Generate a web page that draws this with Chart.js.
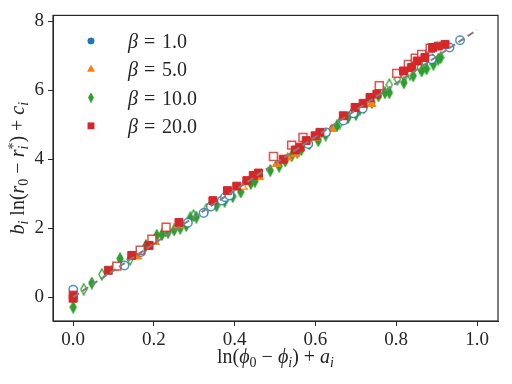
<!DOCTYPE html>
<html>
<head>
<meta charset="utf-8">
<script src="https://cdn.jsdelivr.net/npm/chart.js@4"></script>
<style>
  html, body { margin: 0; padding: 0; background: #fff; }
  canvas { display: block; }
</style>
</head>
<body>
<canvas id="chart" width="512" height="384"></canvas>
<script>
// values
const xTicks = [0.0, 0.2, 0.4, 0.6, 0.8, 1.0];
const yTicks = [0, 2, 4, 6, 8];
const betaLabels = ["1.0", "5.0", "10.0", "20.0"];

const fitX = [0.0, 1.0];
const fitY = [0.0, 7.75];

// beta = 1 (blue circles)
const b1FilledX = [];
const b1FilledY = [];
const b1OpenX = [0.0, 0.127, 0.168, 0.284, 0.323, 0.341, 0.368, 0.376, 0.387, 0.582, 0.626, 0.669, 0.694, 0.717, 0.888, 0.932, 0.958];
const b1OpenY = [0.22, 0.92, 1.31, 2.16, 2.44, 2.63, 2.8, 2.9, 2.95, 4.44, 4.78, 5.12, 5.33, 5.47, 6.9, 7.24, 7.45];

// beta = 5 (orange triangles)
const b5FilledX = [0.0, 0.159, 0.203, 0.26, 0.461, 0.504, 0.531, 0.55, 0.6, 0.64, 0.739];
const b5FilledY = [-0.05, 1.18, 1.6, 2.08, 3.48, 3.86, 4.05, 4.15, 4.62, 4.88, 5.6];
const b5OpenX = [0.1, 0.42];
const b5OpenY = [0.85, 3.2];

// beta = 10 (green thin diamonds)
const b10FilledX = [0.0, 0.046, 0.116, 0.18, 0.207, 0.22, 0.235, 0.25, 0.265, 0.28, 0.29, 0.305, 0.355, 0.375, 0.395, 0.415, 0.44, 0.45, 0.488, 0.51, 0.525, 0.541, 0.555, 0.565, 0.585, 0.607, 0.625, 0.653, 0.681, 0.7, 0.71, 0.72, 0.74, 0.756, 0.772, 0.783, 0.819, 0.842, 0.863, 0.875, 0.892, 0.904, 0.91];
const b10FilledY = [-0.29, 0.41, 1.12, 1.5, 1.79, 1.82, 1.88, 1.95, 2.0, 2.08, 2.3, 2.32, 2.65, 2.78, 2.92, 3.05, 3.3, 3.36, 3.67, 3.8, 3.95, 4.1, 4.2, 4.28, 4.45, 4.54, 4.7, 4.97, 5.21, 5.3, 5.45, 5.5, 5.65, 5.84, 5.93, 5.93, 6.22, 6.42, 6.56, 6.62, 6.75, 6.9, 6.95];
const b10OpenX = [0.026, 0.071, 0.141, 0.298, 0.33, 0.44, 0.61, 0.66, 0.783, 0.803, 0.82, 0.834, 0.859, 0.871, 0.89];
const b10OpenY = [0.23, 0.66, 1.1, 2.37, 2.55, 3.4, 4.7, 5.05, 6.16, 6.32, 6.4, 6.47, 6.66, 6.8, 6.88];

// beta = 20 (red squares)
const b20FilledX = [0.0, 0.0, 0.087, 0.145, 0.188, 0.262, 0.346, 0.382, 0.405, 0.43, 0.446, 0.459, 0.52, 0.55, 0.562, 0.577, 0.599, 0.611, 0.669, 0.698, 0.718, 0.735, 0.752, 0.818, 0.838, 0.852, 0.871, 0.89, 0.904, 0.921];
const b20FilledY = [0.06, -0.03, 0.78, 1.21, 1.5, 2.17, 2.8, 3.09, 3.22, 3.38, 3.53, 3.6, 4.0, 4.27, 4.35, 4.54, 4.68, 4.78, 5.26, 5.5, 5.62, 5.79, 5.89, 6.56, 6.66, 6.85, 6.95, 7.24, 7.28, 7.33];
const b20OpenX = [0.108, 0.166, 0.195, 0.23, 0.496, 0.541, 0.569, 0.758, 0.801, 0.83, 0.847, 0.863, 0.884];
const b20OpenY = [0.9, 1.36, 1.68, 2.03, 4.08, 4.41, 4.63, 6.13, 6.49, 6.75, 6.93, 7.04, 7.22];

const BLUE = "#1f77b4", ORANGE = "#ff7f0e", GREEN = "#2ca02c", RED = "#d62728";
const FONT = "'Liberation Serif', 'DejaVu Serif', serif";

function pts(xs, ys) {
  return xs.map((x, i) => ({ x: x, y: ys[i] }));
}

// thin diamond like matplotlib's "d" marker
function thinDiamond(fill, stroke, w, h) {
  const c = document.createElement("canvas");
  c.width = w + 2; c.height = h + 2;
  const g = c.getContext("2d");
  const cx = c.width / 2, cy = c.height / 2;
  g.beginPath();
  g.moveTo(cx, 1); g.lineTo(cx + w / 2, cy); g.lineTo(cx, h + 1); g.lineTo(cx - w / 2, cy); g.closePath();
  g.fillStyle = fill; g.fill();
  g.lineWidth = 1.3; g.strokeStyle = stroke; g.stroke();
  return c;
}
const diamondFilled = thinDiamond(GREEN, GREEN, 6, 11);
const diamondOpen = thinDiamond("#fff", GREEN, 6, 11);
const diamondSmall = thinDiamond(GREEN, GREEN, 4.5, 8);

function scatterSet(label, data, style, radius, color, open, order) {
  return {
    type: "scatter",
    label: label,
    data: data,
    pointStyle: style,
    pointRadius: radius,
    pointHoverRadius: radius,
    pointBackgroundColor: open ? "#fff" : color,
    pointBorderColor: open ? color + "cc" : color,
    pointBorderWidth: open ? 1.5 : 1,
    order: order,
  };
}

const datasets = [
  {
    type: "line", label: "fit", data: pts(fitX, fitY),
    borderColor: "#7f7f7f", borderWidth: 2, borderDash: [7, 4],
    pointRadius: 0, order: 0,
  },
  scatterSet("b20", pts(b20FilledX, b20FilledY), "rect", 5.6, RED, false, 1),
  scatterSet("b20o", pts(b20OpenX, b20OpenY), "rect", 5.6, RED, true, 2),
  scatterSet("b1o", pts(b1OpenX, b1OpenY), "circle", 4.2, BLUE, true, 3),
  scatterSet("b1", pts(b1FilledX, b1FilledY), "circle", 4.2, BLUE, false, 4),
  scatterSet("b5", pts(b5FilledX, b5FilledY), "triangle", 5, ORANGE, false, 5),
  scatterSet("b5o", pts(b5OpenX, b5OpenY), "triangle", 5, ORANGE, true, 6),
  scatterSet("b10", pts(b10FilledX, b10FilledY), diamondFilled, 6, GREEN, false, 7),
  scatterSet("b10o", pts(b10OpenX, b10OpenY), diamondOpen, 6, GREEN, false, 8),
];

// mixed italic / upright text with sub- and superscripts
function drawRich(ctx, segs, size) {
  const fontFor = (sub, it) => (it ? "italic " : "") + (sub ? size * 0.7 : size) + "px " + FONT;
  const widthOf = (s) => {
    ctx.font = fontFor(s.sub || s.sup, s.it);
    let w = ctx.measureText(s.t).width;
    if (s.sup) {
      ctx.font = fontFor(true, false);
      w = Math.max(w, ctx.measureText(s.sup).width);
    }
    return w;
  };
  let total = 0;
  segs.forEach((s) => { total += widthOf(s); });
  let x = -total / 2;
  segs.forEach((s) => {
    ctx.font = fontFor(s.sub || s.sup, s.it);
    ctx.fillText(s.t, x, s.sub || s.sup ? size * 0.22 : 0);
    if (s.sup) {
      ctx.font = fontFor(true, false);
      ctx.fillText(s.sup, x, -size * 0.32);
    }
    x += widthOf(s);
  });
}

const xTitle = [
  { t: "ln(" }, { t: "ϕ", it: true }, { t: "0", sub: true }, { t: " − " },
  { t: "ϕ", it: true }, { t: "i", it: true, sub: true }, { t: ") + " },
  { t: "a", it: true }, { t: "i", it: true, sub: true },
];
const yTitle = [
  { t: "b", it: true }, { t: "i", it: true, sub: true }, { t: " ln(" },
  { t: "r", it: true }, { t: "0", sub: true }, { t: " − " }, { t: "r", it: true },
  { t: "i", it: true, sup: "*" }, { t: ") + " },
  { t: "c", it: true }, { t: "i", it: true, sub: true },
];

const extras = {
  id: "extras",
  afterDraw(chart) {
    const ctx = chart.ctx;
    const a = chart.chartArea;
    ctx.save();
    // frame round the axes
    ctx.strokeStyle = "#262626";
    ctx.lineWidth = 1.2;
    ctx.strokeRect(a.left, a.top, a.right - a.left, a.bottom - a.top);

    ctx.fillStyle = "#262626";
    ctx.textBaseline = "alphabetic";
    ctx.textAlign = "left";
    // axis titles
    ctx.save();
    ctx.translate((a.left + a.right) / 2, 363);
    drawRich(ctx, xTitle, 20);
    ctx.restore();
    ctx.save();
    ctx.translate(24, (a.top + a.bottom) / 2);
    ctx.rotate(-Math.PI / 2);
    drawRich(ctx, yTitle, 20);
    ctx.restore();

    // legend
    const items = [
      { style: "circle", color: BLUE, r: 3.3 },
      { style: "triangle", color: ORANGE, r: 4.3 },
      { style: "diamond", color: GREEN, r: 0 },
      { style: "rect", color: RED, r: 4.6 },
    ];
    items.forEach((it, i) => {
      const y = 41 + i * 28.3;
      const mx = 91;
      ctx.fillStyle = it.color;
      if (it.style === "diamond") {
        ctx.drawImage(diamondSmall, mx - diamondSmall.width / 2, y - diamondSmall.height / 2);
      } else {
        Chart.helpers.drawPoint(ctx, { pointStyle: it.style, radius: it.r, borderWidth: 0 }, mx, y);
        ctx.fill();
      }
      ctx.fillStyle = "#262626";
      ctx.font = "italic 20px " + FONT;
      ctx.fillText("β", 128, y + 7);
      const bw = ctx.measureText("β").width;
      ctx.font = "20px " + FONT;
      ctx.fillText("=", 128 + bw + 6, y + 7);
      ctx.fillText(betaLabels[i], 128 + bw + 24, y + 7);
    });
    ctx.restore();
  },
};

new Chart(document.getElementById("chart").getContext("2d"), {
  type: "scatter",
  data: { datasets: datasets },
  options: {
    responsive: false,
    animation: false,
    layout: { padding: { top: 14, right: 14, left: 0, bottom: 0 } },
    plugins: { legend: { display: false }, tooltip: { enabled: false } },
    scales: {
      x: {
        type: "linear",
        min: -0.05,
        max: 1.052,
        afterBuildTicks: (s) => { s.ticks = xTicks.map((v) => ({ value: v })); },
        afterFit: (s) => { s.height = 63; },
        grid: { drawOnChartArea: false, tickLength: 5, color: "#262626" },
        border: { color: "#262626" },
        ticks: {
          color: "#262626",
          font: { family: FONT, size: 19 },
          padding: 3,
          maxRotation: 0,
          callback: (v) => v.toFixed(1),
        },
      },
      y: {
        type: "linear",
        min: -0.69,
        max: 8.17,
        afterBuildTicks: (s) => { s.ticks = yTicks.map((v) => ({ value: v })); },
        afterFit: (s) => { s.width = 53; },
        grid: { drawOnChartArea: false, tickLength: 5, color: "#262626" },
        border: { color: "#262626" },
        ticks: {
          color: "#262626",
          font: { family: FONT, size: 19 },
          padding: 4,
          callback: (v) => String(v),
        },
      },
    },
  },
  plugins: [extras],
});
</script>
</body>
</html>
